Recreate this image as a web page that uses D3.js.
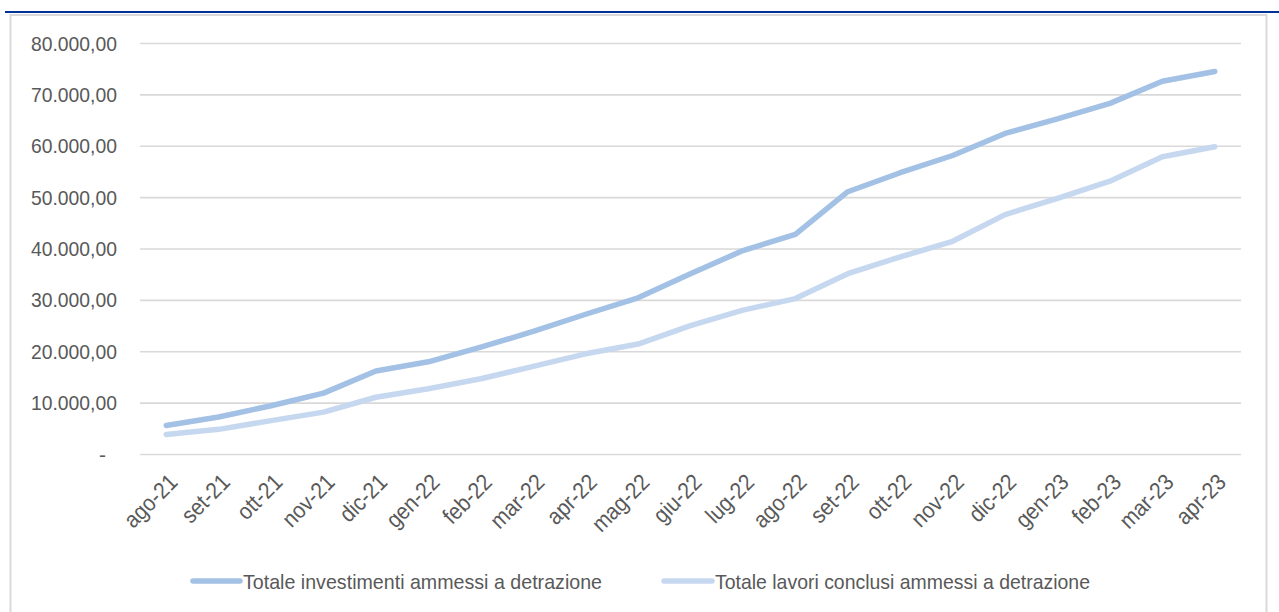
<!DOCTYPE html>
<html><head><meta charset="utf-8">
<script src="https://cdn.jsdelivr.net/npm/d3@7"></script>
<style>
html,body{margin:0;padding:0;background:#fff;}
svg{display:block;}
text{font-family:"Liberation Sans Narrow","Liberation Sans",Arial,sans-serif;fill:#595959;}
</style></head>
<body>
<svg id="c" width="1279" height="612"></svg>
<script>
const categories = ["ago-21","set-21","ott-21","nov-21","dic-21","gen-22","feb-22","mar-22","apr-22","mag-22","giu-22","lug-22","ago-22","set-22","ott-22","nov-22","dic-22","gen-23","feb-23","mar-23","apr-23"];
const investimenti = [5560, 7200, 9400, 11850, 16150, 17950, 20800, 23850, 27200, 30400, 35100, 39600, 42750, 51050, 54750, 58100, 62400, 65250, 68250, 72550, 74450];
const lavori = [3800, 4800, 6500, 8150, 11050, 12700, 14650, 17050, 19500, 21400, 25000, 28000, 30250, 35100, 38350, 41400, 46600, 49750, 53100, 57850, 59800];
const yTicks = [0, 10000, 20000, 30000, 40000, 50000, 60000, 70000, 80000];
const seriesNames = ["Totale investimenti ammessi a detrazione", "Totale lavori conclusi ammessi a detrazione"];
const seriesColors = ["#a3c1e5", "#c6d8ef"];

const svg = d3.select("#c");
const locale = d3.formatLocale({decimal: ",", thousands: ".", grouping: [3], currency: ["€", ""]});
const fmt = locale.format(",.2f");

// header rule and frame
svg.append("line").attr("x1", 5).attr("x2", 1279).attr("y1", 12).attr("y2", 12)
  .attr("stroke", "#003399").attr("stroke-width", 2);
svg.append("rect").attr("x", 10.5).attr("y", 15).attr("width", 1256).attr("height", 620)
  .attr("fill", "none").attr("stroke", "#d9d9d9").attr("stroke-width", 2);

const x = d3.scaleBand().domain(categories).range([140, 1241]).paddingInner(0).paddingOuter(0);
const y = d3.scaleLinear().domain([0, 80000]).range([454, 43]);
const cx = c => x(c) + x.bandwidth() / 2;

// gridlines via axis
const gAxisY = svg.append("g").attr("transform", "translate(140,0)")
  .call(d3.axisLeft(y).tickValues(yTicks).tickSize(-1101).tickFormat(""));
gAxisY.select(".domain").remove();
gAxisY.selectAll(".tick line").attr("stroke", "#d9d9d9").attr("stroke-width", 1.6);

// y labels
svg.append("g").selectAll("text").data(yTicks).join("text")
  .attr("x", d => d === 0 ? 106 : 117)
  .attr("y", d => y(d))
  .attr("dy", "0.36em")
  .attr("text-anchor", "end")
  .style("font-size", "21px")
  .attr("textLength", d => d === 0 ? null : 86)
  .attr("lengthAdjust", "spacingAndGlyphs")
  .text(d => d === 0 ? "-" : fmt(d));

// x labels
const xl = svg.append("g").selectAll("text").data(categories).join("text")
  .attr("text-anchor", "end")
  .style("font-size", "23px")
  .attr("transform", d => `translate(${cx(d) + 7},${478}) rotate(-45)`)
  .attr("dy", "0.35em")
  .text(d => d);
xl.each(function() {
  const L = this.getComputedTextLength();
  d3.select(this).attr("textLength", L * 0.9).attr("lengthAdjust", "spacingAndGlyphs");
});

// lines
const line = d3.line().x((d, i) => cx(categories[i])).y(d => y(d));
[investimenti, lavori].forEach((s, k) => {
  svg.append("path").datum(s).attr("d", line)
    .attr("fill", "none").attr("stroke", seriesColors[k]).attr("stroke-width", 5.5)
    .attr("stroke-linecap", "round").attr("stroke-linejoin", "round");
});

// legend
const legendItems = [
  {x1: 193, x2: 240, tx: 243, tl: 359},
  {x1: 664, x2: 712, tx: 715, tl: 375}
];
legendItems.forEach((li, k) => {
  svg.append("line").attr("x1", li.x1).attr("x2", li.x2).attr("y1", 581).attr("y2", 581)
    .attr("stroke", seriesColors[k]).attr("stroke-width", 5.5).attr("stroke-linecap", "round");
  svg.append("text").attr("x", li.tx).attr("y", 581).attr("dy", "0.36em")
    .style("font-size", "21px")
    .attr("textLength", li.tl).attr("lengthAdjust", "spacingAndGlyphs")
    .text(seriesNames[k]);
});
</script>
</body></html>
